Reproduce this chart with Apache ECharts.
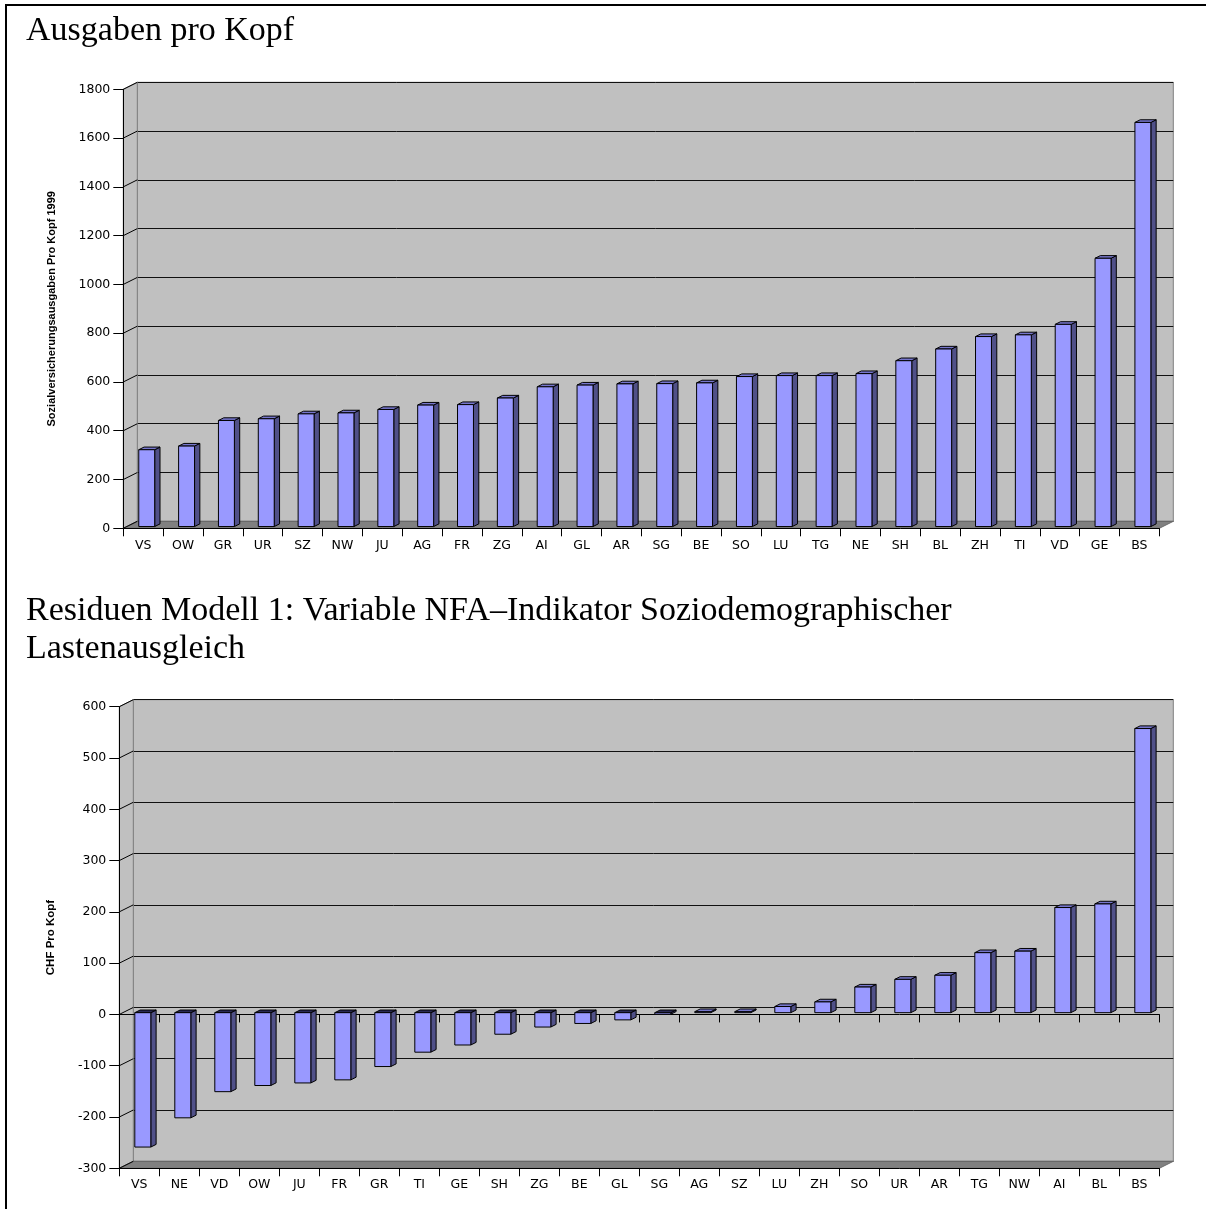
<!DOCTYPE html>
<html><head><meta charset="utf-8">
<script src="https://cdn.jsdelivr.net/npm/echarts@6/dist/echarts.min.js"></script>
<style>html,body{margin:0;padding:0;background:#fff;overflow:hidden}#c{width:1206px;height:1209px}</style>
</head><body><div id="c"></div>
<script>
// ---- data ----
const title1 = 'Ausgaben pro Kopf';
const title2 = 'Residuen Modell 1: Variable NFA\u2013Indikator Soziodemographischer\nLastenausgleich';
const yName1 = 'Sozialversicherungsausgaben Pro Kopf 1999';
const yName2 = 'CHF Pro Kopf';
const cats1 = ['VS','OW','GR','UR','SZ','NW','JU','AG','FR','ZG','AI','GL','AR','SG','BE','SO','LU','TG','NE','SH','BL','ZH','TI','VD','GE','BS'];
const vals1 = [315, 330, 435, 442, 462, 466, 480, 498, 500, 527, 573, 580, 585, 586, 589, 615, 619, 619, 627, 680, 728, 779, 786, 829, 1100, 1657];
const cats2 = ['VS','NE','VD','OW','JU','FR','GR','TI','GE','SH','ZG','BE','GL','SG','AG','SZ','LU','ZH','SO','UR','AR','TG','NW','AI','BL','BS'];
const vals2 = [-262, -205, -154, -142, -137, -131, -105, -77, -63, -42, -28, -21, -14, -3, 2, 2, 12, 21, 50, 65, 73, 117, 120, 205, 212, 554];
const yRange1 = [0, 1800, 200];
const yRange2 = [-300, 600, 100];

// ---- layout / style ----
const DX = 14, DY = -7, F0 = 0.25, F1 = 0.63;
const G1 = {left: 123.3, top: 89.3, width: 1036, height: 439};
const G2 = {left: 119.3, top: 706.7, width: 1040, height: 461.6};
const LABEL_FONT = 'DejaVu Sans';
const FRONT = '#9999ff', SIDE = '#505088', TOP = '#7676cc', TOP_NEG = '#2a2a55';

function back(g) { return {left: g.left + DX, top: g.top + DY, width: g.width, height: g.height}; }

function wallsRender(range) {
  return function (params, api) {
    if (params.dataIndex !== 0) return;
    const cs = params.coordSys;
    const x = cs.x, y = cs.y, w = cs.width, h = cs.height;
    const ch = [];
    ch.push({type: 'polygon', shape: {points: [[x, y], [x + DX, y + DY], [x + DX, y + h + DY], [x, y + h]]},
      style: {fill: '#c0c0c0', stroke: '#808080', lineWidth: 1}});
    ch.push({type: 'polygon', shape: {points: [[x, y + h], [x + DX, y + h + DY], [x + w + DX, y + h + DY], [x + w, y + h]]},
      style: {fill: '#808080', stroke: '#6a6a6a', lineWidth: 1}});
    for (let t = range[0]; t <= range[1]; t += range[2]) {
      const py = api.coord([0, t])[1];
      ch.push({type: 'line', shape: {x1: x, y1: py, x2: x + DX, y2: py + DY}, style: {stroke: '#000', lineWidth: 1}});
    }
    return {type: 'group', children: ch};
  };
}

function barRender(params, api) {
  const i = api.value(0), v = api.value(1);
  const p0 = api.coord([i, 0]), p1 = api.coord([i, v]);
  const bw = api.size([1, 0])[0] * 0.4;
  const ox0 = DX * F0, oy0 = DY * F0;
  const ddx = DX * (F1 - F0), ddy = DY * (F1 - F0);
  const xl = p0[0] - bw / 2 + ox0, xr = xl + bw;
  const yb = p0[1] + oy0, yt = p1[1] + oy0;
  const top = Math.min(yb, yt), bot = Math.max(yb, yt);
  const st = {stroke: '#000', lineWidth: 1};
  return {type: 'group', children: [
    {type: 'polygon', shape: {points: [[xr, top], [xr + ddx, top + ddy], [xr + ddx, bot + ddy], [xr, bot]]},
      style: Object.assign({fill: SIDE}, st)},
    {type: 'polygon', shape: {points: [[xl, top], [xl + ddx, top + ddy], [xr + ddx, top + ddy], [xr, top]]},
      style: Object.assign({fill: v < 0 ? TOP_NEG : TOP}, st)},
    {type: 'rect', shape: {x: xl, y: top, width: bw, height: bot - top},
      style: Object.assign({fill: FRONT}, st)}
  ]};
}

const txt = {fontFamily: LABEL_FONT, fontSize: 12.5, color: '#000'};
const blackLine = {show: true, lineStyle: {color: '#000', width: 1}};

function frontX(gi, cats, margin) {
  return {
    type: 'category', gridIndex: gi, data: cats, boundaryGap: true, z: 4,
    axisLine: {show: true, onZero: false, lineStyle: {color: '#000', width: 1}},
    axisTick: {show: true, length: 8, interval: 0, lineStyle: {color: '#000'}},
    axisLabel: Object.assign({interval: 0, margin: margin}, txt),
    splitLine: {show: false}
  };
}
function backX(gi, cats) {
  return {type: 'category', gridIndex: gi, data: cats, show: false};
}
function frontY(gi, r, name, nameSize, gap) {
  return {
    type: 'value', gridIndex: gi, min: r[0], max: r[1], interval: r[2], z: 4,
    axisLine: blackLine, axisTick: {show: true, length: 10, lineStyle: {color: '#000'}},
    axisLabel: Object.assign({margin: 13, formatter: v => String(v)}, txt),
    splitLine: {show: false},
    name: name, nameLocation: 'middle', nameGap: gap,
    nameTextStyle: {fontFamily: 'Liberation Sans', fontWeight: 'bold', fontSize: nameSize, color: '#000'}
  };
}
function backY(gi, r) {
  return {
    type: 'value', gridIndex: gi, min: r[0], max: r[1], interval: r[2],
    axisLine: {show: false}, axisTick: {show: false}, axisLabel: {show: false},
    splitLine: {show: true, lineStyle: {color: '#111', width: 1}}
  };
}

const backGridStyle = {show: true, backgroundColor: '#c0c0c0', borderColor: '#808080', borderWidth: 1};

const option = {
  animation: false,
  backgroundColor: '#fff',
  title: [
    {text: title1, left: 21, top: 7, textStyle: {fontFamily: 'Liberation Serif', fontSize: 34, fontWeight: 'normal', color: '#000', lineHeight: 38}},
    {text: title2, left: 21, top: 587, textStyle: {fontFamily: 'Liberation Serif', fontSize: 34, fontWeight: 'normal', color: '#000', lineHeight: 38}}
  ],
  graphic: [
    {type: 'rect', shape: {x: 6, y: 5, width: 1400, height: 1400}, style: {fill: 'none', stroke: '#000', lineWidth: 2}, z: 100}
  ],
  grid: [
    Object.assign({show: false, outerBoundsMode: 'none', containLabel: false}, G1),
    Object.assign({outerBoundsMode: 'none', containLabel: false}, back(G1), backGridStyle),
    Object.assign({show: false, outerBoundsMode: 'none', containLabel: false}, G2),
    Object.assign({outerBoundsMode: 'none', containLabel: false}, back(G2), backGridStyle)
  ],
  xAxis: [
    frontX(0, cats1, 11),
    backX(1, cats1),
    frontX(2, cats2, 10),
    backX(3, cats2),
    {type: 'category', gridIndex: 2, data: cats2, boundaryGap: true, position: 'bottom', z: 2,
      axisLine: {show: true, onZero: true, lineStyle: {color: '#000', width: 1}},
      axisTick: {show: true, length: 8, interval: 0, lineStyle: {color: '#000'}},
      axisLabel: {show: false}, splitLine: {show: false}}
  ],
  yAxis: [
    frontY(0, yRange1, yName1, 11, 66),
    backY(1, yRange1),
    frontY(2, yRange2, yName2, 11.5, 62),
    backY(3, yRange2)
  ],
  series: [
    {type: 'custom', xAxisIndex: 0, yAxisIndex: 0, z: 1, clip: false, silent: true, data: [[0, 0]], renderItem: wallsRender(yRange1)},
    {type: 'custom', xAxisIndex: 0, yAxisIndex: 0, z: 3, clip: false, data: vals1.map((v, i) => [i, v]), renderItem: barRender},
    {type: 'custom', xAxisIndex: 2, yAxisIndex: 2, z: 1, clip: false, silent: true, data: [[0, 0]], renderItem: wallsRender(yRange2)},
    {type: 'custom', xAxisIndex: 2, yAxisIndex: 2, z: 3, clip: false, data: vals2.map((v, i) => [i, v]), renderItem: barRender}
  ]
};

const chart = echarts.init(document.getElementById('c'), null, {renderer: 'canvas'});
chart.setOption(option);
</script>
</body></html>
